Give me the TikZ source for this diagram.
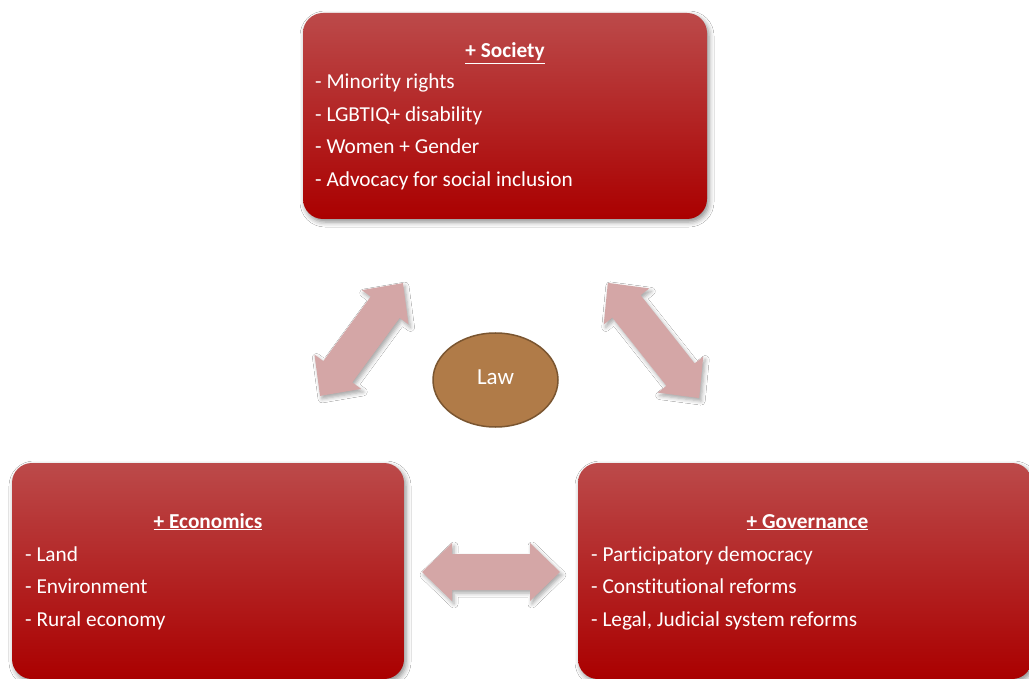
\documentclass[tikz,border=0pt]{standalone}
\usepackage{fontspec}
\setmainfont[Ligatures=NoCommon]{Carlito}
\usetikzlibrary{shapes.geometric,shadows.blur}
\definecolor{boxtop}{RGB}{188,74,74}
\definecolor{boxmid}{RGB}{177,4,4}
\definecolor{boxbot}{RGB}{170,0,0}
\definecolor{arrowcol}{RGB}{212,166,166}
\definecolor{lawfill}{RGB}{176,123,72}
\definecolor{lawline}{RGB}{122,85,48}
\newcommand{\dblarrow}[4]{%
\begin{scope}[shift={(#1,#2)}, rotate=#3]
\fill[arrowshape] (-#4/2,0) -- (-#4/2+30,-29) -- (-#4/2+30,-18) -- (#4/2-30,-18) -- (#4/2-30,-29) -- (#4/2,0) -- (#4/2-30,29) -- (#4/2-30,18) -- (-#4/2+30,18) -- (-#4/2+30,29) -- cycle;
\end{scope}}
\begin{document}
\begin{tikzpicture}[x=1pt,y=-1pt,
  panel/.style={rounded corners=20pt, inner sep=0pt, outer sep=0pt,
    top color=boxtop, middle color=boxmid, bottom color=boxbot,
    blur shadow={shadow xshift=2pt, shadow yshift=-3pt, shadow blur radius=5pt, shadow opacity=45}},
  arrowshape/.style={arrowcol, blur shadow={shadow xshift=2pt, shadow yshift=-3pt, shadow blur radius=4pt, shadow opacity=35}},
  title/.style={anchor=base, inner sep=0pt, text=white, font=\fontsize{21.3}{25}\selectfont\bfseries},
  item/.style={anchor=base west, inner sep=0pt, text=white, font=\fontsize{21.3}{25}\selectfont}]
\useasboundingbox (0,0) rectangle (1029,679);
\fill[white] (0,0) rectangle (1029,679);

% boxes
\node[panel, minimum width=404pt, minimum height=206pt] (soc) at (505,116) {};
\node[panel, minimum width=392pt, minimum height=216pt] (eco) at (208,571) {};
\node[panel, minimum width=454pt, minimum height=216pt] (gov) at (805,571) {};

% society text
\node[title] (soct) at (505,58) {\underline{+ Society}};
\node[item] (soc1) at (315,89) {- Minority rights};
\node[item] (soc2) at (315,122) {- LGBTIQ+ disability};
\node[item] (soc3) at (315,154) {- Women + Gender};
\node[item] (soc4) at (315,187) {- Advocacy for social inclusion};

% economics text
\node[title] (ecot) at (208,528) {\underline{+ Economics}};
\node[item] (eco1) at (25,561) {- Land};
\node[item] (eco2) at (25,593) {- Environment};
\node[item] (eco3) at (25,626) {- Rural economy};

% governance text
\node[title] (govt) at (807.5,528) {\underline{+ Governance}};
\node[item] (gov1) at (591,561) {- Participatory democracy};
\node[item] (gov2) at (591,593) {- Constitutional reforms};
\node[item] (gov3) at (591,626) {- Legal, Judicial system reforms};

% arrows
\dblarrow{361.5}{339.5}{53.7}{140}
\dblarrow{653.5}{340.5}{-51.6}{147}
\dblarrow{491}{572}{0}{138}

% law
\node[ellipse, draw=lawline, line width=1.5pt, fill=lawfill, minimum width=125pt, minimum height=94pt, inner sep=0pt] (law) at (495.5,380) {};
\node[anchor=base, inner sep=0pt, text=white, font=\fontsize{23}{27}\selectfont] (lawt) at (495.5,384) {Law};
\end{tikzpicture}
\end{document}
